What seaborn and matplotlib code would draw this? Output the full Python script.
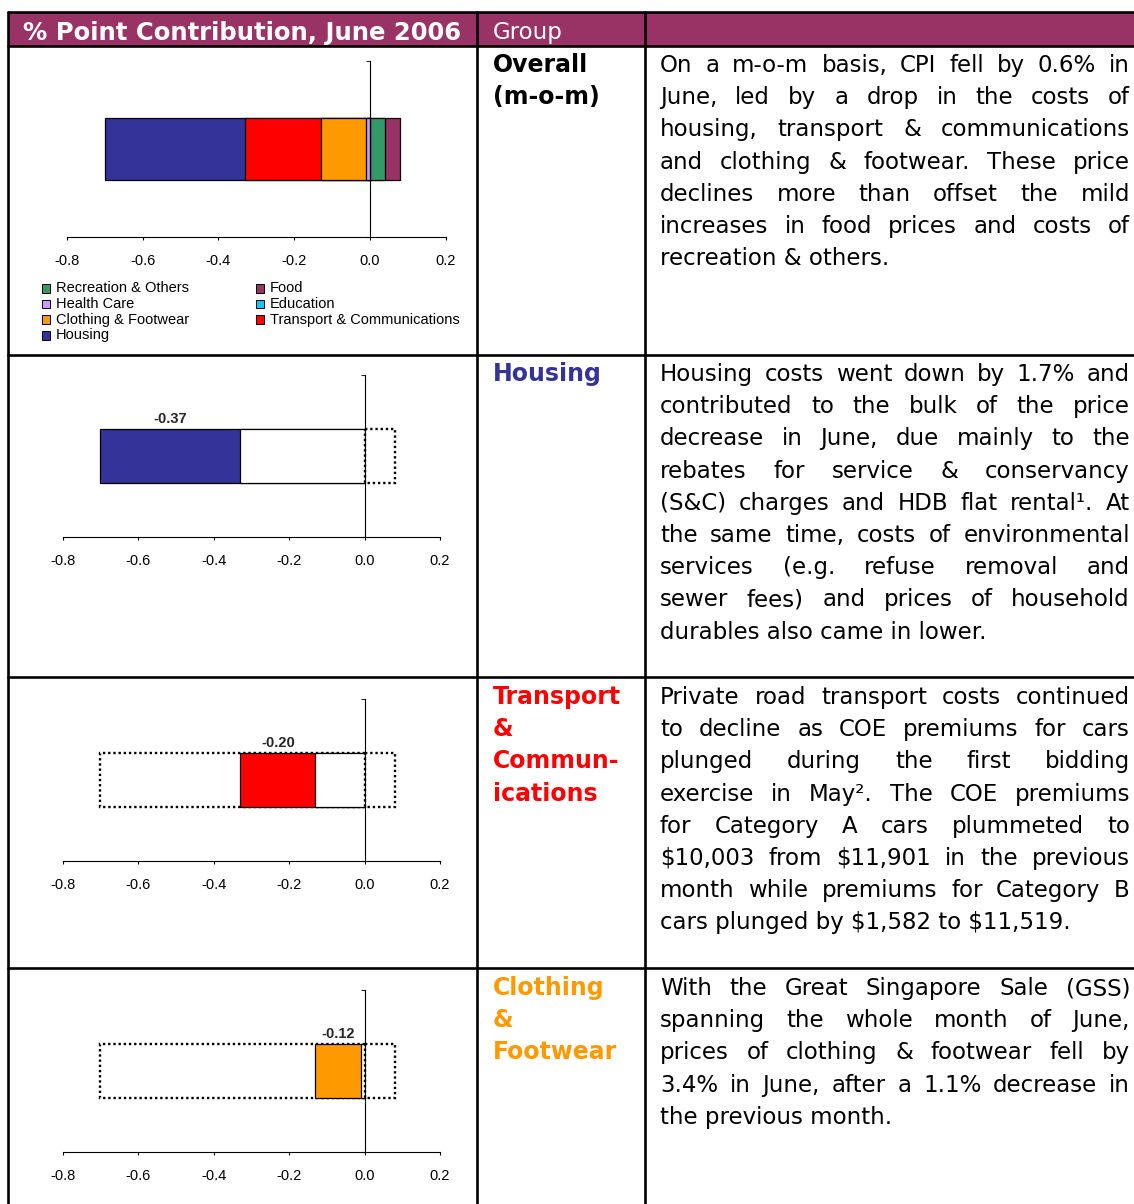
import matplotlib
matplotlib.use("Agg")
import matplotlib.pyplot as plt
from matplotlib.lines import Line2D
from matplotlib.patches import Rectangle
import seaborn as sns

# Contribution to the month-on-month CPI change, percentage points (June 2006)
groups = ["Recreation & Others", "Food", "Health Care", "Education",
          "Clothing & Footwear", "Transport & Communications", "Housing"]
contrib = [0.04, 0.04, -0.01, 0.00, -0.12, -0.20, -0.37]
group_colors = ["#339966", "#993366", "#CC99FF", "#00CCFF",
                "#FF9900", "#FF0000", "#333399"]

# Groups that get their own panel, in the order they are discussed
focus_groups = ["Housing", "Transport & Communications", "Clothing & Footwear"]

x_ticks = [-0.8, -0.6, -0.4, -0.2, 0.0, 0.2]
x_tick_labels = ["-0.8", "-0.6", "-0.4", "-0.2", "0.0", "0.2"]

title_text = "% Point Contribution, June 2006"
group_header = "Group"

row_titles = [["Overall", "(m-o-m)"],
              ["Housing"],
              ["Transport", "&", "Commun-", "ications"],
              ["Clothing", "&", "Footwear"]]
row_title_colors = ["black", "#333399", "#FF0000", "#FF9900"]

row_paragraphs = [
    ["On a m-o-m basis, CPI fell by 0.6% in",
     "June, led by a drop in the costs of",
     "housing, transport & communications",
     "and clothing & footwear.  These price",
     "declines more than offset the mild",
     "increases in food prices and costs of",
     "recreation & others."],
    ["Housing costs went down by 1.7% and",
     "contributed to the bulk of the price",
     "decrease in June, due mainly to the",
     "rebates for service & conservancy",
     "(S&C) charges and HDB flat rental\u00b9.  At",
     "the same time, costs of environmental",
     "services (e.g. refuse removal and",
     "sewer fees) and prices of household",
     "durables also came in lower."],
    ["Private road transport costs continued",
     "to decline as COE premiums for cars",
     "plunged during the first bidding",
     "exercise in May\u00b2.  The COE premiums",
     "for Category A cars plummeted to",
     "$10,003 from $11,901 in the previous",
     "month while premiums for Category B",
     "cars plunged by $1,582 to $11,519."],
    ["With the Great Singapore Sale (GSS)",
     "spanning the whole month of June,",
     "prices of clothing & footwear fell by",
     "3.4% in June, after a 1.1% decrease in",
     "the previous month."],
]

# ---------------------------------------------------------------- layout
W, H = 1134, 1204
sns.set_style("white")
plt.rcParams["font.family"] = ["DejaVu Sans"]
plt.rcParams["axes.edgecolor"] = "black"
plt.rcParams["axes.linewidth"] = 0.8

fig = plt.figure(figsize=(W / 100, H / 100), dpi=100)
fig.patch.set_facecolor("white")
renderer = fig.canvas.get_renderer()

CHART_FONT = "Liberation Sans"
LINE_W = 1.9
PURPLE = "#993366"


def fx(x):
    return x / W


def fy(y):
    return 1 - y / H


def hline(y, x0=8, x1=W):
    fig.add_artist(Line2D([fx(x0), fx(x1)], [fy(y), fy(y)], color="black",
                          lw=LINE_W, transform=fig.transFigure, zorder=5))


def vline(x, y0=12, y1=H):
    fig.add_artist(Line2D([fx(x), fx(x)], [fy(y0), fy(y1)], color="black",
                          lw=LINE_W, transform=fig.transFigure, zorder=5))


# header band
fig.add_artist(Rectangle((fx(8), fy(46)), fx(W - 8), 34 / H, facecolor=PURPLE,
                         edgecolor="none", transform=fig.transFigure, zorder=1))
for y in (12, 46, 355, 677, 968):
    hline(y)
for x in (8, 477, 645):
    vline(x)

fig.text(fx(23), fy(40), title_text, color="white", fontsize=17.5,
         fontweight="bold", va="baseline", zorder=6)
fig.text(fx(493), fy(39), group_header, color="white", fontsize=16.5,
         va="baseline", zorder=6)

# ---------------------------------------------------------------- text column
BODY = dict(fontsize=16.5, family="DejaVu Sans", color="black", parse_math=False)
LINE_STEP = 32.2
row_baselines = [72, 381, 704, 995]


def text_width(s, **kw):
    t = fig.text(0, 0, s, **kw)
    w = t.get_window_extent(renderer).width
    t.remove()
    return w


def justified(lines, x0, x1, y0, step, **kw):
    for i, line in enumerate(lines):
        yb = y0 + i * step
        words = line.split()
        if i == len(lines) - 1 or len(words) == 1:
            fig.text(fx(x0), fy(yb), line, va="baseline", **kw)
            continue
        widths = [text_width(w, **kw) for w in words]
        gap = (x1 - x0 - sum(widths)) / (len(words) - 1)
        x = x0
        for w, wd in zip(words, widths):
            fig.text(fx(x), fy(yb), w, va="baseline", **kw)
            x += wd + gap


for title_lines, color, para, yb in zip(row_titles, row_title_colors,
                                        row_paragraphs, row_baselines):
    for j, t in enumerate(title_lines):
        fig.text(fx(493), fy(yb + j * LINE_STEP), t, color=color, fontsize=17,
                 fontweight="bold", family="DejaVu Sans", va="baseline")
    justified(para, 660, 1130, yb, LINE_STEP, **BODY)

# ---------------------------------------------------------------- charts
def stack(values):
    pos = neg = 0.0
    starts, ends = [], []
    for v in values:
        if v >= 0:
            starts.append(pos)
            pos += v
            ends.append(pos)
        else:
            starts.append(neg)
            neg += v
            ends.append(neg)
    return starts, ends, pos, neg


starts, ends, pos_total, neg_total = stack(contrib)


def chart_axes(left, right, top, bottom):
    return fig.add_axes([fx(left), fy(bottom), (right - left) / W, (bottom - top) / H])


def segment(ax, end, bar_w, **style):
    if abs(end) < 1e-9:
        return
    sns.barplot(x=[end], y=["m-o-m"], orient="h", width=bar_w, saturation=1,
                errorbar=None, ax=ax, **style)


def style_axes(ax):
    ax.set_xlim(-0.8, 0.2)
    ax.set_ylim(0.5, -0.5)
    ax.set_xticks(x_ticks, x_tick_labels)
    ax.set_yticks([-0.5, 0.5], ["", ""])
    ax.set_xlabel("")
    ax.set_ylabel("")
    ax.spines["left"].set_position(("data", 0))
    ax.spines["top"].set_visible(False)
    ax.spines["right"].set_visible(False)
    for sp in ("left", "bottom"):
        ax.spines[sp].set_linewidth(0.8)
        ax.spines[sp].set_color("black")
    ax.tick_params(axis="x", bottom=True, direction="out", length=2.5, width=0.8,
                   pad=10, labelsize=10.5, colors="black")
    ax.tick_params(axis="y", left=True, direction="out", length=2.6, width=0.8)
    for lab in ax.get_xticklabels():
        lab.set_family(CHART_FONT)
    ax.patch.set_alpha(0)


SOLID = dict(edgecolor="black", linewidth=0.9)
DOTTED = dict(color="white", edgecolor="black", linewidth=1.7, linestyle=(0, (1, 1.2)))

# overall stacked bar: outermost cumulative segments first, inner ones on top
ax0 = chart_axes(67, 445.7, 61, 237)
order = sorted(range(len(groups)), key=lambda i: -abs(ends[i]))
for i in order:
    if contrib[i] != 0:
        segment(ax0, ends[i], 0.35, color=group_colors[i], **SOLID)
style_axes(ax0)

# legend (row-major, two columns)
for i, (g, c) in enumerate(zip(groups, group_colors)):
    row, col = divmod(i, 2)
    yc = 288.5 + row * 15.6
    xs = 41.5 if col == 0 else 255.5
    fig.add_artist(Rectangle((fx(xs), fy(yc + 4.2)), 8.4 / W, 8.4 / H,
                             facecolor=c, edgecolor="black", lw=0.7,
                             transform=fig.transFigure))
    fig.text(fx(xs + 14.5), fy(yc), g, va="center", fontsize=10.5,
             family=CHART_FONT, color="black")

# one panel per focus group: earlier groups dotted, later groups outlined
panel_boxes = [(375, 536.7), (699, 861), (990, 1151.7)]
for name, (top, bottom) in zip(focus_groups, panel_boxes):
    k = groups.index(name)
    ax = chart_axes(62.7, 440, top, bottom)
    bw = 0.33
    if abs(ends[k]) < abs(neg_total) - 1e-9:
        segment(ax, neg_total, bw, **DOTTED)
    segment(ax, ends[k], bw, color=group_colors[k], **SOLID)
    if abs(starts[k]) > 1e-9:
        segment(ax, starts[k], bw, color="white", **SOLID)
    segment(ax, pos_total, bw, **DOTTED)
    style_axes(ax)
    ax.annotate(f"{contrib[k]:.2f}", xy=((starts[k] + ends[k]) / 2, -bw / 2),
                xytext=(0, 2.5), textcoords="offset points", ha="center",
                va="bottom", fontsize=10.5, fontweight="bold", family=CHART_FONT)

fig.savefig("out.png", dpi=100, facecolor="white")
